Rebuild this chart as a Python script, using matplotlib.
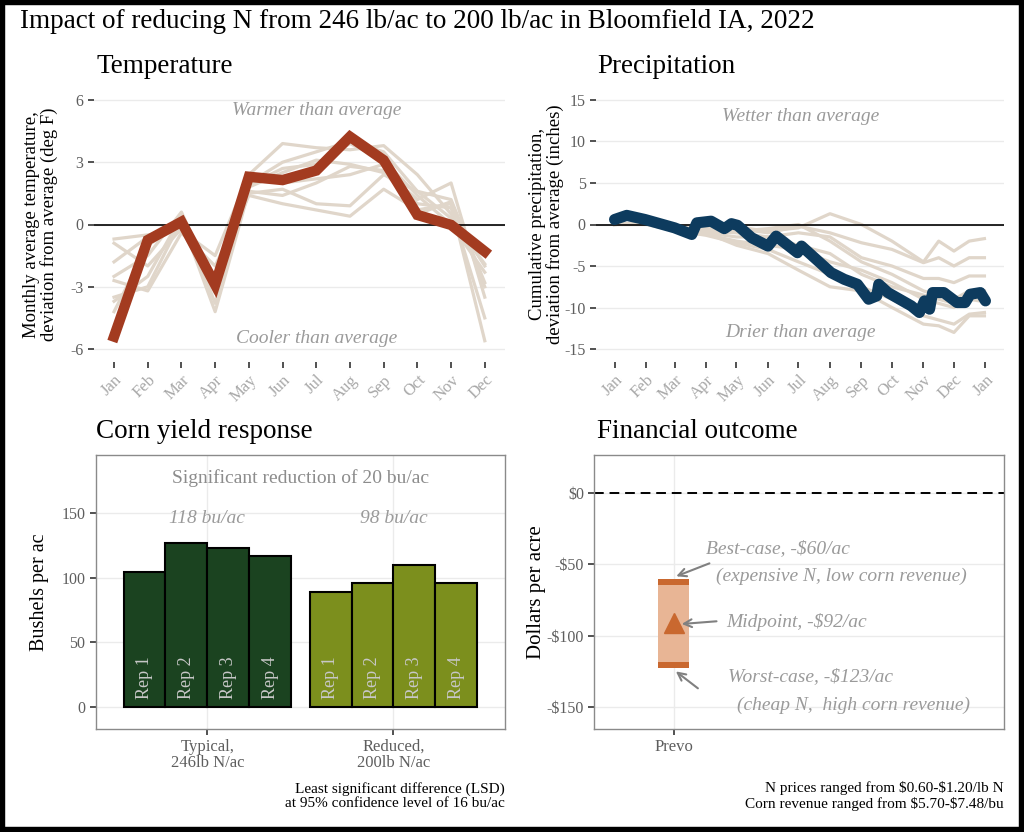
import matplotlib
matplotlib.use('Agg')
import matplotlib.pyplot as plt

plt.rcParams['font.family'] = ['Liberation Serif', 'DejaVu Serif']
plt.rcParams['text.parse_math'] = False
plt.rcParams['axes.unicode_minus'] = False


#===Data===#
months = ['Jan', 'Feb', 'Mar', 'Apr', 'May', 'Jun', 'Jul', 'Aug', 'Sep', 'Oct', 'Nov', 'Dec']
month_num = list(range(1, 13))

# monthly temperature deviation (deg F), 2022 and other years
temp_2022 = [-5.4, -0.75, 0.13, -2.9, 2.3, 2.14, 2.6, 4.23, 3.1, 0.46, -0.02, -1.3]
temp_other = [
    [-0.7, -0.5, -0.3, -1.5, 2.4, 3.9, 3.7, 3.6, 3.8, 2.4, 0.5, -2.0],
    [-2.5, -1.5, 0.6, -3.0, 2.0, 3.0, 3.5, 4.0, 3.5, 1.6, 1.2, -2.8],
    [-3.5, -3.0, 0.2, -4.2, 1.6, 1.4, 2.0, 2.8, 2.6, 1.2, 2.0, -3.5],
    [-0.9, -2.0, -0.2, -3.3, 1.8, 2.5, 3.1, 2.9, 2.5, 1.0, 0.8, -4.5],
    [-4.2, -1.0, 0.0, -2.5, 1.4, 1.0, 0.7, 0.4, 1.7, 0.7, 1.0, -5.6],
    [-2.7, -3.2, -0.4, -2.0, 1.5, 1.7, 1.0, 0.9, 2.4, 1.6, 0.3, -1.9],
    [-3.7, -2.5, 0.4, -3.8, 2.2, 2.0, 2.2, 2.4, 2.9, 0.5, 1.1, -3.0],
    [-1.8, -0.6, -0.1, -2.7, 1.9, 2.7, 2.9, 3.9, 3.1, 1.4, 0.0, -2.3],
]

# cumulative precipitation deviation (inches), day of year from Jan 1
precip_days = [0, 12, 30, 59, 76, 81, 95, 108, 115, 121, 135, 151, 159, 180, 184, 213,
               226, 239, 250, 258, 260, 269, 292, 300, 305, 310, 313, 324, 337, 345, 350, 360, 365]
precip_2022 = [0.6, 1.1, 0.6, -0.4, -1.2, 0.2, 0.4, -0.5, 0.1, -0.1, -1.6, -2.6, -1.4, -3.4, -2.6, -5.8,
               -6.6, -7.2, -9.0, -8.6, -7.2, -8.2, -9.8, -10.6, -9.2, -10.2, -8.2, -8.2, -9.4, -9.4, -8.4, -8.2, -9.2]
other_days = [0, 31, 59, 90, 120, 151, 181, 212, 243, 273, 304, 319, 334, 349, 364]
precip_other = [
    [0, 0.2, -0.5, -0.8, -0.3, -0.8, -0.4, 1.3, 0.0, -2.0, -4.5, -2.0, -3.2, -2.0, -1.7],
    [0, 0.3, -0.3, -0.5, -0.5, -1.0, -0.2, -1.0, -2.2, -3.0, -4.6, -4.0, -5.0, -4.0, -4.0],
    [0, 0.1, -0.6, -1.0, -1.5, -1.5, -1.0, -1.5, -4.0, -5.0, -6.5, -6.5, -7.0, -6.2, -6.2],
    [0, 0.2, -0.4, -0.9, -0.8, -0.5, 0.0, -2.0, -4.5, -6.0, -8.0, -8.5, -9.0, -8.0, -8.0],
    [0, 0.1, -0.8, -1.2, -2.0, -2.5, -3.0, -4.5, -5.5, -7.0, -9.0, -9.5, -10.0, -8.5, -8.5],
    [0, 0.0, -0.7, -1.3, -2.2, -3.0, -4.5, -6.0, -7.5, -9.0, -11.0, -11.5, -12.0, -10.8, -10.6],
    [0, 0.2, -0.5, -1.0, -2.5, -3.5, -5.5, -7.5, -8.0, -10.0, -12.0, -12.2, -13.0, -11.0, -11.0],
    [0, 0.2, -0.6, -0.8, -1.0, -1.5, -2.5, -3.5, -6.0, -7.5, -8.5, -9.0, -9.5, -9.0, -9.3],
]
month_start_days = [0, 31, 59, 90, 120, 151, 181, 212, 243, 273, 304, 334, 365]
month_tick_labels = months + ['Jan']

# corn yield (bu/ac)
groups = ['Typical,\n246lb N/ac', 'Reduced,\n200lb N/ac']
reps = ['Rep 1', 'Rep 2', 'Rep 3', 'Rep 4']
yield_typical = [104, 127, 123, 117]
yield_reduced = [89, 96, 110, 96]
group_labels = ['118 bu/ac', '98 bu/ac']

# financial outcome ($/ac)
site = 'Prevo'
best_case = -60
worst_case = -123
mid_label = -92

#===Colors===#
grey_txt = '#5e5e5e'
note_txt = '#9a9a9a'
beige = '#e0d6ca'
grid_c = '#ebebeb'

fig = plt.figure(figsize=(10.24, 8.32), dpi=100)
W, H = 1024.0, 832.0


def box(l, t, r, b):
    return [l / W, 1 - b / H, (r - l) / W, (b - t) / H]


def style(ax, frame=False):
    for s in ax.spines.values():
        s.set_visible(frame)
        s.set_color('#8a8a8a')
        s.set_linewidth(1.0)
    ax.tick_params(length=4, width=1.2, color='#333333', labelcolor=grey_txt, labelsize=11.5)
    ax.set_axisbelow(True)


#===Temperature===#
ax1 = fig.add_axes(box(93.8, 87.5, 505, 361.5))
style(ax1)
ax1.grid(axis='y', color=grid_c, lw=1)
for t in temp_other:
    ax1.plot(month_num, t, color=beige, lw=2.3)
ax1.axhline(0, color='black', lw=1.2)
ax1.plot(month_num, temp_2022, color='#a33b20', lw=7.5, solid_joinstyle='miter')
ax1.set_xlim(0.4, 12.6)
ax1.set_ylim(-6.6, 6.6)
ax1.set_yticks([-6, -3, 0, 3, 6])
ax1.set_xticks(month_num)
ax1.set_xticklabels(months, rotation=45, ha='right', rotation_mode='anchor', color='#a8a8a8', fontsize=12)
ax1.set_ylabel('Monthly average temperature,\ndeviation from average (deg F)', fontsize=13.5, linespacing=1.0)
ax1.yaxis.set_label_coords(-0.088, 0.5)
ax1.text(7, 5.5, 'Warmer than average', style='italic', color=note_txt, fontsize=14, ha='center', va='center')
ax1.text(7, -5.5, 'Cooler than average', style='italic', color=note_txt, fontsize=14, ha='center', va='center')

#===Precipitation===#
ax2 = fig.add_axes(box(596, 87.5, 1004, 361.5))
style(ax2)
ax2.grid(axis='y', color=grid_c, lw=1)
for p in precip_other:
    ax2.plot(other_days, p, color=beige, lw=2.3)
ax2.axhline(0, color='black', lw=1.2)
ax2.plot(precip_days, precip_2022, color='#0d3b5e', lw=8, solid_joinstyle='round', solid_capstyle='round')
ax2.set_xlim(-18.25, 383.25)
ax2.set_ylim(-16.5, 16.5)
ax2.set_yticks([-15, -10, -5, 0, 5, 10, 15])
ax2.set_xticks(month_start_days)
ax2.set_xticklabels(month_tick_labels, rotation=45, ha='right', rotation_mode='anchor', color='#a8a8a8', fontsize=12)
ax2.set_ylabel('Cumulative precipitation,\ndeviation from average (inches)', fontsize=13.5, linespacing=1.0)
ax2.yaxis.set_label_coords(-0.078, 0.5)
ax2.text(183, 13, 'Wetter than average', style='italic', color=note_txt, fontsize=14, ha='center', va='center')
ax2.text(183, -13, 'Drier than average', style='italic', color=note_txt, fontsize=14, ha='center', va='center')

#===Corn yield===#
ax3 = fig.add_axes(box(95.7, 455, 505, 728.7))
style(ax3, frame=True)
ax3.grid(color=grid_c, lw=1)
bw = 0.225
offsets = [-1.5 * bw, -0.5 * bw, 0.5 * bw, 1.5 * bw]
for g, (vals, col) in enumerate([(yield_typical, '#1b4320'), (yield_reduced, '#7c8f1d')]):
    xs = [g + 1 + o for o in offsets]
    ax3.bar(xs, vals, width=bw, color=col, edgecolor='black', lw=1.5)
    for x, r in zip(xs, reps):
        ax3.text(x, 6, r, rotation=90, ha='center', va='bottom', color='#c8c8c8', fontsize=13)
    ax3.text(g + 1, 146, group_labels[g], style='italic', color=note_txt, fontsize=14, ha='center', va='center')
ax3.text(1.5, 177, 'Significant reduction of 20 bu/ac', color='#8c8c8c', fontsize=14, ha='center', va='center')
ax3.set_xlim(0.4, 2.6)
ax3.set_ylim(-17, 195)
ax3.set_yticks([0, 50, 100, 150])
ax3.set_xticks([1, 2])
ax3.set_xticklabels(groups, fontsize=12, linespacing=1.0)
ax3.set_ylabel('Bushels per ac', fontsize=14.5)
ax3.yaxis.set_label_coords(-0.114, 0.5)

#===Financial===#
ax4 = fig.add_axes(box(594.3, 455, 1004.3, 728.7))
style(ax4, frame=True)
ax4.grid(color=grid_c, lw=1)
ax4.axhline(0, color='black', lw=1.4, ls=(0, (5, 3)))
cap = 4.5
ax4.bar(0, best_case - worst_case, bottom=worst_case, width=0.23, color='#e8b595')
ax4.bar(0, cap, bottom=best_case - cap, width=0.23, color='#c9682f')
ax4.bar(0, cap, bottom=worst_case, width=0.23, color='#c9682f')
ax4.plot(0, (best_case + worst_case) / 2, marker='^', ms=14, color='#c9682f')
arr = dict(arrowstyle='->', color='#808080', lw=1.5, mutation_scale=14)
ax4.annotate('', xy=(0, best_case + 1), xytext=(0.29, -48.5), arrowprops=arr)
ax4.annotate('', xy=(0.04, -92), xytext=(0.345, -89.8), arrowprops=arr)
ax4.annotate('', xy=(0, worst_case - 1), xytext=(0.2, -138.3), arrowprops=arr)
kw = dict(style='italic', color=note_txt, fontsize=14, ha='left', va='center')
ax4.text(0.247, -38.7, 'Best-case, -$60/ac', **kw)
ax4.text(0.32, -58.6, '(expensive N, low corn revenue)', **kw)
ax4.text(0.40, -90.3, f'Midpoint, -${abs(mid_label)}/ac', **kw)
ax4.text(0.41, -129, f'Worst-case, -${abs(worst_case)}/ac', **kw)
ax4.text(0.48, -148.8, '(cheap N,  high corn revenue)', **kw)
ax4.set_xlim(-0.6, 2.5)
ax4.set_ylim(-165.5, 27)
ax4.set_xticks([0])
ax4.set_xticklabels([site], fontsize=12)
yt = [0, -50, -100, -150]
ax4.set_yticks(yt)
ax4.set_yticklabels(['$0' if v == 0 else f'-${abs(v)}' for v in yt])
ax4.set_ylabel('Dollars per acre', fontsize=15)
ax4.yaxis.set_label_coords(-0.119, 0.5)

#===Titles and captions===#
fig.text(20.5 / W, 1 - 28.3 / H, 'Impact of reducing N from 246 lb/ac to 200 lb/ac in Bloomfield IA, 2022',
         fontsize=19.5, va='baseline')
for x, y, s in [(96.7, 72.7, 'Temperature'), (597, 72.7, 'Precipitation'),
                (96, 438.3, 'Corn yield response'), (597, 438.3, 'Financial outcome')]:
    fig.text(x / W, 1 - y / H, s, fontsize=19.5, va='baseline')
fig.text(505 / W, 1 - 796 / H, 'Least significant difference (LSD)\nat 95% confidence level of 16 bu/ac',
         fontsize=11, ha='right', va='center', linespacing=1.15)
fig.text(1003.7 / W, 1 - 796 / H, 'N prices ranged from $0.60-$1.20/lb N\nCorn revenue ranged from $5.70-$7.48/bu',
         fontsize=11, ha='right', va='center', linespacing=1.15)

fig.patches.append(plt.Rectangle((0, 0), 1, 1, transform=fig.transFigure, fill=False, ec='black', lw=7.5))

fig.savefig('out.png', dpi=100, facecolor='white')
